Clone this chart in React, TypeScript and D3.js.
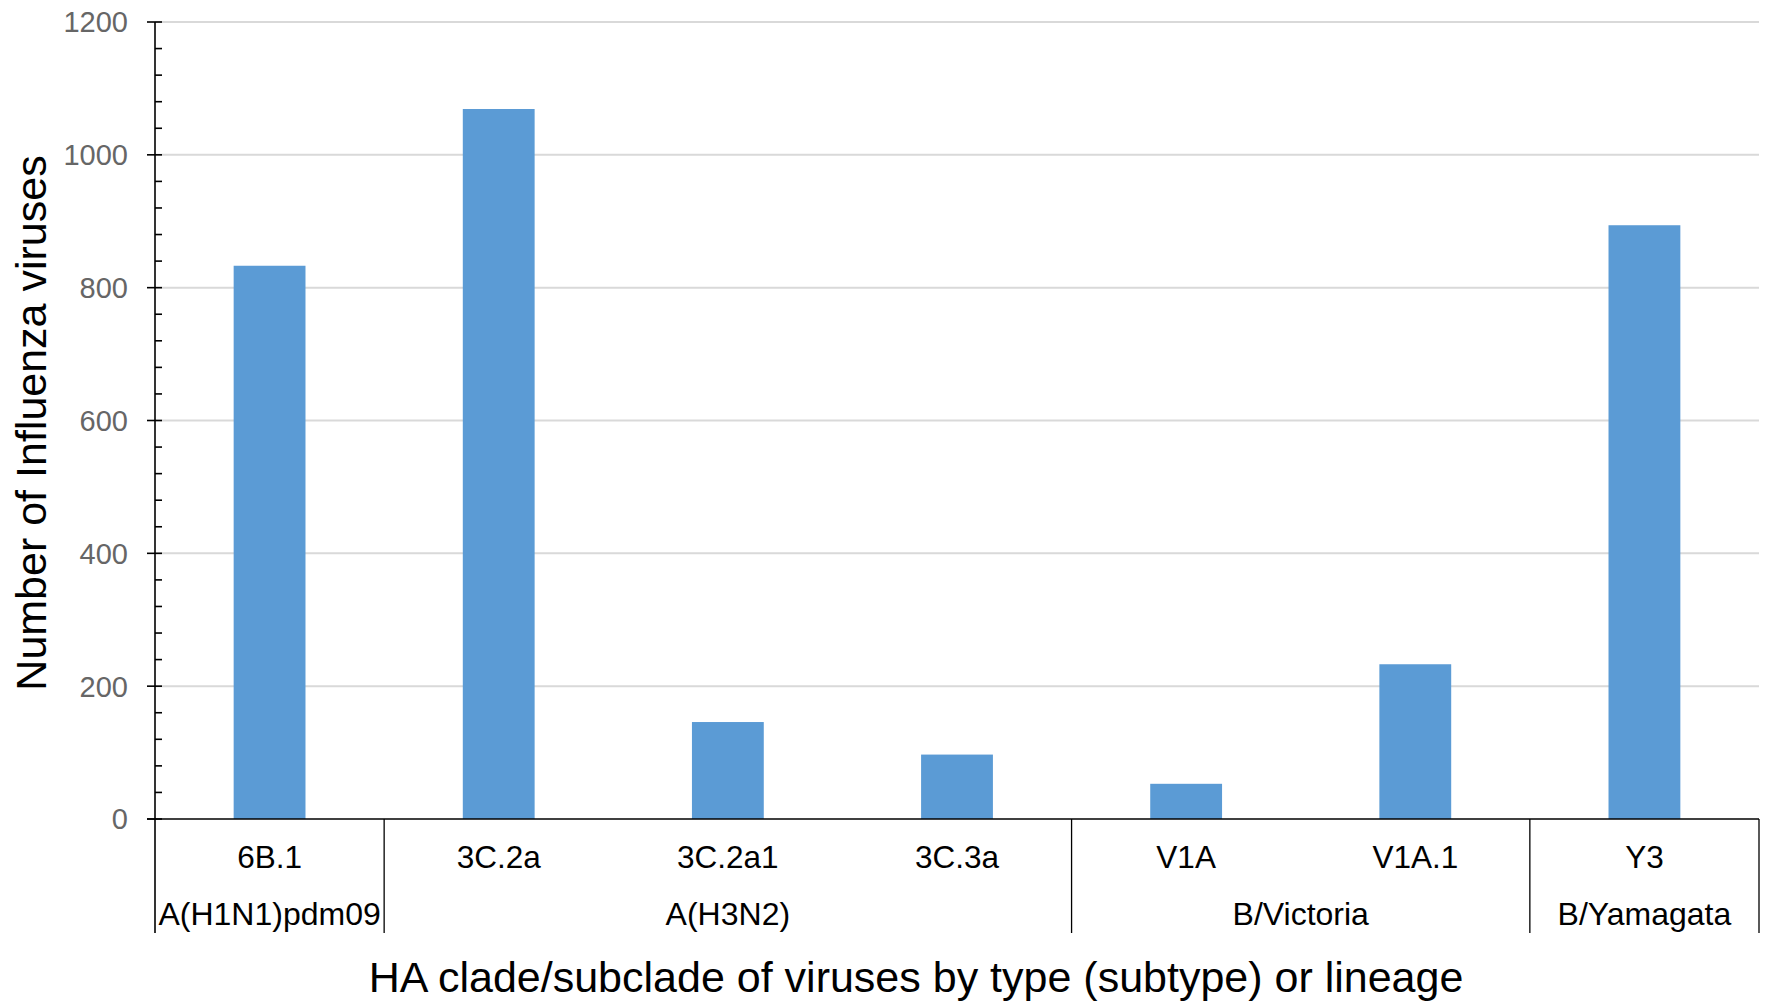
import * as d3 from 'd3';

const clades = ['6B.1', '3C.2a', '3C.2a1', '3C.3a', 'V1A', 'V1A.1', 'Y3'];
const counts = [833, 1069, 146, 97, 53, 233, 894];
const groups = ['A(H1N1)pdm09', 'A(H3N2)', 'B/Victoria', 'B/Yamagata'];
const groupSizes = [1, 3, 2, 1];
const yTicks = [0, 200, 400, 600, 800, 1000, 1200];

const W = 1766;
const H = 1002;
const margin = { top: 22, right: 7, bottom: 183, left: 155 };
const FONT = '"Liberation Sans", Arial, Helvetica, sans-serif';

export default function App() {
  const innerW = W - margin.left - margin.right;
  const innerH = H - margin.top - margin.bottom;

  const x = d3.scaleBand<string>().domain(clades).range([0, innerW]).paddingInner(0).paddingOuter(0);
  const y = d3.scaleLinear().domain([0, 1200]).range([innerH, 0]);
  const minorTicks = d3.range(0, 1201, 40).filter(v => v % 200 !== 0);

  const barW = x.bandwidth() / 3.19;

  // group boundaries by cumulative band count
  let acc = 0;
  const groupSpans = groups.map((g, i) => {
    const start = acc;
    acc += groupSizes[i];
    return { name: g, x0: start * x.step(), x1: acc * x.step() };
  });
  const boundaries = [0, ...groupSpans.map(s => s.x1)];
  const sepBottom = 114;

  return (
    <svg width={W} height={H} style={{ position: 'absolute', left: 0, top: 0, background: '#fff' }} fontFamily={FONT}>
      <g transform={`translate(${margin.left},${margin.top})`}>
        {/* gridlines */}
        {yTicks.filter(t => t > 0).map(t => (
          <line key={t} x1={0} x2={innerW} y1={y(t)} y2={y(t)} stroke="#d9d9d9" strokeWidth={2} />
        ))}

        {/* bars */}
        {clades.map((c, i) => (
          <rect
            key={c}
            x={(x(c) ?? 0) + (x.bandwidth() - barW) / 2}
            y={y(counts[i])}
            width={barW}
            height={y(0) - y(counts[i])}
            fill="#5b9bd5"
          />
        ))}

        {/* y axis */}
        <line x1={0} x2={0} y1={y(1200)} y2={innerH + sepBottom} stroke="#000" strokeWidth={1.6} />
        {yTicks.map(t => (
          <g key={t}>
            <line x1={-8} x2={7} y1={y(t)} y2={y(t)} stroke="#000" strokeWidth={1.6} />
            <text x={-27} y={y(t)} dy="0.36em" textAnchor="end" fontSize={29} fill="#666666">{t}</text>
          </g>
        ))}
        {minorTicks.map(t => (
          <line key={t} x1={0} x2={7} y1={y(t)} y2={y(t)} stroke="#000" strokeWidth={1.6} />
        ))}

        {/* x axis */}
        <line x1={-8} x2={innerW} y1={innerH} y2={innerH} stroke="#000" strokeWidth={1.6} />
        {boundaries.slice(1).map((b, i) => (
          <line key={i} x1={b} x2={b} y1={innerH} y2={innerH + sepBottom} stroke="#000" strokeWidth={1.3} />
        ))}
        {clades.map(c => (
          <text key={c} x={(x(c) ?? 0) + x.bandwidth() / 2} y={innerH + 49} textAnchor="middle" fontSize={31.5} fill="#000">{c}</text>
        ))}
        {groupSpans.map(s => (
          <text key={s.name} x={(s.x0 + s.x1) / 2} y={innerH + 106} textAnchor="middle" fontSize={32} fill="#000">{s.name}</text>
        ))}
      </g>

      {/* axis titles */}
      <text x={916} y={992} textAnchor="middle" fontSize={43} fill="#000">
        HA clade/subclade of viruses by type (subtype) or lineage
      </text>
      <text transform={`translate(46,${423}) rotate(-90)`} textAnchor="middle" fontSize={43} fill="#000">
        Number of Influenza viruses
      </text>
    </svg>
  );
}
